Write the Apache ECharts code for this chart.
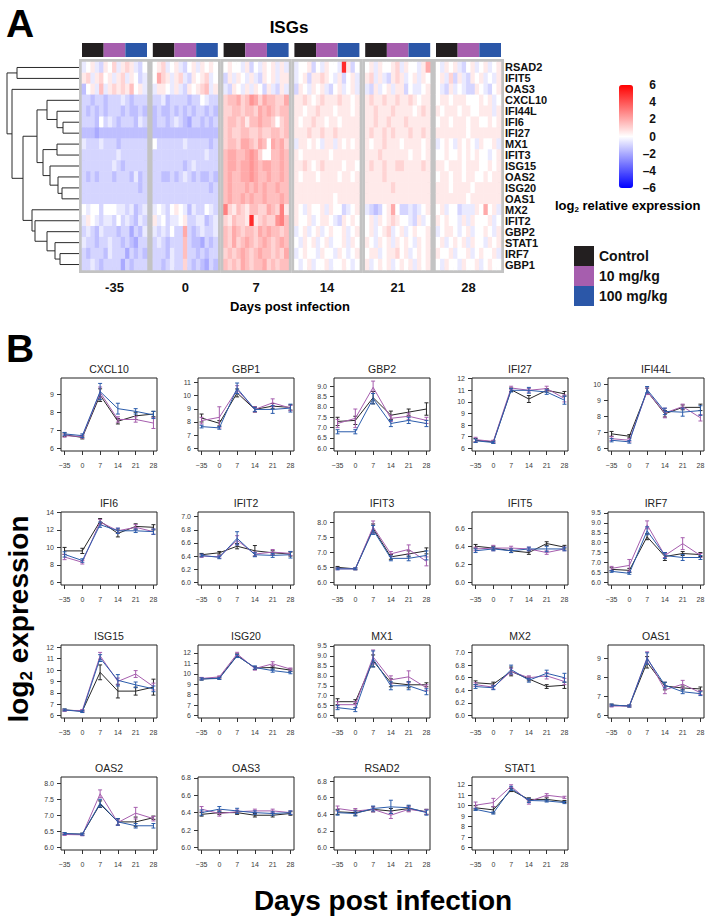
<!DOCTYPE html>
<html>
<head>
<meta charset="utf-8">
<title>ISGs</title>
<script src="https://cdn.jsdelivr.net/npm/echarts@6/dist/echarts.min.js"></script>
<style>
html, body { margin: 0; padding: 0; background: #fff; }
#chart { width: 705px; height: 920px; }
</style>
</head>
<body>
<div id="chart"></div>
<script>
// ---------- panel A data ----------
var heatGenes = ['RSAD2', 'IFIT5', 'OAS3', 'CXCL10', 'IFI44L', 'IFI6', 'IFI27', 'MX1', 'IFIT3', 'ISG15',
  'OAS2', 'ISG20', 'OAS1', 'MX2', 'IFIT2', 'GBP2', 'STAT1', 'IRF7', 'GBP1'];
var heatDays = ['-35', '0', '7', '14', '21', '28'];
var groupNames = ['Control', '10 mg/kg', '100 mg/kg'];
// one string per day block, 15 animals (5 per group); letter code: 'i' = 0, one letter = 0.5 log2
var heatRows = [
  ['hijhgjikhjkjhgi', 'ijkhijhgijhjiji', 'ijiihjgihjijhjh', 'hiijgihjiihsjgi', 'ijhjiijkhjiihjm', 'ihjijhgijhijhij'],
  ['jkhjkijhjkhjigh', 'imkjhjkhgjijkhi', 'gjhjihjhgjijhjj', 'hijgjjkjihjgijh', 'jkhjhgjkjhijhji', 'ijhkgjhgjijhihj'],
  ['fijhlhjkjkjlijh', 'hjjihjhgjijklhj', 'hgjihjhjigjhgjh', 'gjihjijhgijhijh', 'hgjhijhjjgihhij', 'ihgjhihggjihgij'],
  ['ggfggfggghgfggg', 'gghfggggfggihgg', 'kllmklnmkmllkkm', 'jjkjijkjjjkjjij', 'jkjjkjjkjjkjijj', 'ijjijjjiiijijhi'],
  ['gfgfgfgggfgffgf', 'fgffgfgfgfggfgf', 'kkllkllkmlmlkll', 'jjijjkjjjijjjij', 'jjkjjjkjjjjijkj', 'jijjjijjiijjjhj'],
  ['gggfighgfgggfhg', 'fggfghgfeggfgfg', 'kllkljllmllkikl', 'jijjkjjijjijjjj', 'jjkjjkjjjkjjjjj', 'ijjijjjijjiijij'],
  ['fffefffffffffff', 'fffffffffffffff', 'klkkllkklkkllkl', 'jjjkjjkjjkjjjjj', 'jkjjkjkjjjkjjkj', 'jjjjjjjijjjjjjj'],
  ['hggghgggfgggggg', 'igggggghgggggfg', 'kllkmmlkmlimlmk', 'hjjijihjjhjijij', 'jijjkjjjijjjjij', 'hijihjijihjiijh'],
  ['gggggggghgggggg', 'gggggggggggghgg', 'lmmllmnmkiillml', 'jijjjjjjijjjjjj', 'jjjkjjjjjjijjij', 'iijiijijijiihij'],
  ['ggggggghgfggggg', 'gggggggfghggggg', 'lmmlmmnmlmmllml', 'jjkjijkjjjjijji', 'jkjjkjjkkjjjjkj', 'jjijjjijjjiijij'],
  ['gfgfgggfgggfhfg', 'ggffgfghgfgffgf', 'lmllmmnmllmllml', 'jijjjijjjjijjij', 'jjjjkjjjjjjjjjj', 'ijjijjijjiijijj'],
  ['gggggggggggggfg', 'gggggggggggggfg', 'lmlllmlmlmllmll', 'jjjjjjjjjjjjjjj', 'jjjjjjkjjjjjjjj', 'jjjijjjjijjjjjj'],
  ['ggggggggggggggg', 'ggggggggggggggg', 'lmllmlmllmlllml', 'jjjjjjjjjijjjjj', 'jjjjjjjjjjjjjjj', 'jjjjjjjijjjjjjj'],
  ['ihiigiiihhghfgh', 'hihgijihfhggihg', 'okjlkjllkkmlkoj', 'jihjiijhjiighij', 'hgfgijmigghghij', 'ijhiighhhjimijh'],
  ['hjihghhgighgfhg', 'jhighhijgghhfgh', 'kjlkkjsjklkknol', 'jiijhijjihgjiji', 'ijhjijkjiihgjhi', 'jijiihjhjiiijhi'],
  ['ghgfhgggfggegfh', 'hghgiggmgfghggh', 'lkmlkllkmlmllkl', 'hijhijhijiijhij', 'ijhijkhijhijiij', 'hijjihijhiijihj'],
  ['hggfgghggfgfegg', 'ghgfggglgffegfg', 'lkmklmlklmlklml', 'ihjijhijhiijhji', 'jihjijhjijihjij', 'ijhijijhjiihjij'],
  ['gfgggfhgggegfgf', 'gggfhgglggfgfgg', 'klklmlklmllklkm', 'hijiihjiihjihij', 'ijjhijjkijhijij', 'jiijhiijhijiijh'],
  ['gghgfggggegfggg', 'ggfghggkgfgfegf', 'lklkmlkllmklkll', 'ihijhiijhiijihi', 'jhijijhijijhjij', 'ihjiihjiijhijii']
];
// dendrogram merges, hclust style: negative = leaf (row), positive = earlier merge; third value = height
var merges = [
  [-6, -7, 16], [-5, 1, 22], [-4, 2, 32], [-8, -9, 22], [-12, -13, 17], [-11, 5, 21],
  [-10, 6, 29], [4, 7, 36], [3, 8, 42], [-18, -19, 19], [-17, 10, 24], [-16, 11, 32],
  [-15, 12, 44], [-14, 13, 47], [9, 14, 56], [-3, 15, 67], [-1, -2, 62], [17, 16, 72]
];

// ---------- panel B data ----------
var dayLabels = ['\u221235', '0', '7', '14', '21', '28'];
var plotGenes = ['CXCL10', 'GBP1', 'GBP2', 'IFI27', 'IFI44L', 'IFI6', 'IFIT2', 'IFIT3', 'IFIT5', 'IRF7',
  'ISG15', 'ISG20', 'MX1', 'MX2', 'OAS1', 'OAS2', 'OAS3', 'RSAD2', 'STAT1'];
var ctrlMean = [
  [6.75, 6.6, 8.95, 7.5, 7.8, 7.9], [8.3, 7.9, 10.2, 8.95, 9.2, 9.1], [7.3, 7.35, 8.45, 7.6, 7.75, 7.9],
  [6.7, 6.55, 11.05, 10.25, 11.0, 10.7], [6.9, 6.75, 9.55, 8.15, 8.55, 8.55], [9.6, 9.6, 13.0, 11.6, 12.4, 12.3],
  [6.42, 6.45, 6.55, 6.48, 6.45, 6.43], [6.5, 6.45, 7.8, 6.85, 6.95, 7.05], [6.40, 6.38, 6.35, 6.33, 6.43, 6.39],
  [6.65, 6.6, 8.3, 7.3, 7.45, 7.4], [6.5, 6.4, 9.8, 8.15, 8.15, 8.5], [9.5, 9.6, 11.75, 10.55, 10.6, 10.35],
  [6.7, 6.7, 8.75, 7.65, 7.55, 7.55], [6.52, 6.50, 6.70, 6.58, 6.46, 6.48], [6.55, 6.5, 8.8, 7.55, 7.45, 7.4],
  [6.43, 6.42, 7.35, 6.8, 6.8, 6.93], [6.38, 6.40, 6.40, 6.37, 6.37, 6.39], [6.43, 6.42, 6.46, 6.44, 6.47, 6.43],
  [9.8, 9.6, 11.5, 10.6, 10.6, 10.4]
];
var lowMean = [
  [6.7, 6.65, 9.1, 7.6, 7.6, 7.4], [8.1, 8.35, 10.45, 8.95, 9.45, 9.05], [7.2, 7.45, 8.95, 7.45, 7.55, 7.35],
  [6.75, 6.6, 11.2, 11.0, 11.15, 10.3], [6.6, 6.5, 9.55, 8.2, 8.6, 7.9], [8.9, 8.3, 12.9, 11.9, 12.3, 11.8],
  [6.40, 6.39, 6.64, 6.43, 6.46, 6.44], [6.45, 6.45, 7.85, 6.95, 7.1, 6.7], [6.37, 6.38, 6.38, 6.37, 6.33, 6.37],
  [6.7, 6.85, 8.9, 7.35, 7.95, 7.35], [6.45, 6.45, 11.25, 9.0, 9.65, 8.55], [9.55, 9.7, 11.9, 10.5, 10.95, 10.45],
  [6.55, 6.55, 8.95, 7.8, 7.95, 7.4], [6.49, 6.45, 6.70, 6.60, 6.63, 6.54], [6.5, 6.5, 9.05, 7.35, 7.65, 7.2],
  [6.41, 6.40, 7.67, 6.78, 7.07, 6.9], [6.44, 6.39, 6.41, 6.42, 6.42, 6.40], [6.47, 6.44, 6.46, 6.39, 6.46, 6.43],
  [10.05, 10.3, 11.85, 10.4, 11.0, 10.8]
];
var highMean = [
  [6.8, 6.7, 9.15, 8.2, 8.05, 7.85], [7.65, 7.55, 10.55, 8.95, 8.95, 9.05], [6.8, 6.8, 8.4, 7.2, 7.35, 7.2],
  [6.65, 6.5, 11.0, 11.0, 10.85, 10.15], [6.5, 6.4, 9.65, 8.3, 8.25, 8.35], [9.2, 8.5, 12.6, 11.9, 11.9, 11.8],
  [6.41, 6.38, 6.67, 6.42, 6.41, 6.42], [6.45, 6.45, 7.75, 6.8, 6.8, 6.9], [6.35, 6.37, 6.35, 6.37, 6.37, 6.37],
  [6.55, 6.45, 8.6, 7.35, 7.25, 7.25], [6.5, 6.35, 11.05, 9.1, 8.7, 8.35], [9.5, 9.55, 11.7, 10.6, 10.3, 10.1],
  [6.4, 6.3, 8.85, 7.5, 7.5, 7.2], [6.46, 6.44, 6.73, 6.56, 6.67, 6.60], [6.55, 6.5, 9.0, 7.6, 7.25, 7.15],
  [6.44, 6.42, 7.38, 6.8, 6.68, 6.68], [6.40, 6.44, 6.42, 6.40, 6.39, 6.40], [6.42, 6.41, 6.47, 6.49, 6.48, 6.42],
  [9.65, 9.3, 11.65, 10.5, 10.45, 10.3]
];
var ctrlSe = [
  [0.1, 0.08, 0.35, 0.15, 0.2, 0.15], [0.3, 0.2, 0.3, 0.2, 0.2, 0.2], [0.2, 0.2, 0.3, 0.2, 0.15, 0.3],
  [0.15, 0.1, 0.15, 0.3, 0.15, 0.2], [0.15, 0.1, 0.2, 0.2, 0.15, 0.2], [0.4, 0.3, 0.3, 0.4, 0.3, 0.3],
  [0.02, 0.02, 0.04, 0.08, 0.03, 0.03], [0.03, 0.03, 0.15, 0.08, 0.1, 0.1], [0.02, 0.02, 0.02, 0.02, 0.02, 0.02],
  [0.08, 0.1, 0.15, 0.2, 0.1, 0.1], [0.08, 0.08, 0.65, 0.6, 0.35, 0.7], [0.1, 0.1, 0.15, 0.15, 0.15, 0.1],
  [0.15, 0.1, 0.3, 0.2, 0.15, 0.1], [0.03, 0.03, 0.07, 0.03, 0.03, 0.05], [0.05, 0.05, 0.3, 0.2, 0.1, 0.1],
  [0.03, 0.03, 0.1, 0.1, 0.15, 0.05], [0.02, 0.02, 0.02, 0.02, 0.02, 0.02], [0.03, 0.03, 0.03, 0.03, 0.03, 0.03],
  [0.2, 0.3, 0.15, 0.15, 0.15, 0.1]
];
var lowSe = [
  [0.08, 0.08, 0.3, 0.15, 0.15, 0.3], [0.25, 0.8, 0.3, 0.2, 0.3, 0.2], [0.2, 0.45, 0.3, 0.15, 0.15, 0.15],
  [0.2, 0.1, 0.15, 0.15, 0.2, 0.3], [0.12, 0.1, 0.2, 0.3, 0.15, 0.2], [0.3, 0.2, 0.3, 0.3, 0.3, 0.3],
  [0.02, 0.02, 0.07, 0.03, 0.04, 0.03], [0.03, 0.03, 0.2, 0.08, 0.15, 0.15], [0.02, 0.03, 0.02, 0.02, 0.02, 0.02],
  [0.1, 0.3, 0.2, 0.1, 0.3, 0.1], [0.08, 0.08, 0.3, 0.3, 0.3, 0.3], [0.1, 0.1, 0.15, 0.15, 0.2, 0.1],
  [0.15, 0.15, 0.35, 0.2, 0.3, 0.15], [0.03, 0.03, 0.05, 0.03, 0.05, 0.05], [0.05, 0.05, 0.3, 0.2, 0.2, 0.1],
  [0.03, 0.03, 0.12, 0.08, 0.18, 0.07], [0.03, 0.03, 0.02, 0.02, 0.02, 0.02], [0.03, 0.03, 0.03, 0.04, 0.03, 0.03],
  [0.3, 0.4, 0.15, 0.25, 0.15, 0.1]
];
var highSe = [
  [0.08, 0.1, 0.45, 0.3, 0.15, 0.2], [0.1, 0.1, 0.4, 0.15, 0.3, 0.3], [0.1, 0.1, 0.25, 0.15, 0.15, 0.15],
  [0.15, 0.08, 0.15, 0.25, 0.2, 0.35], [0.1, 0.08, 0.2, 0.2, 0.25, 0.3], [0.3, 0.2, 0.3, 0.3, 0.2, 0.3],
  [0.02, 0.02, 0.1, 0.03, 0.03, 0.05], [0.03, 0.03, 0.15, 0.08, 0.08, 0.15], [0.02, 0.02, 0.02, 0.02, 0.03, 0.02],
  [0.05, 0.05, 0.2, 0.15, 0.15, 0.1], [0.08, 0.08, 0.3, 0.5, 0.25, 0.25], [0.1, 0.1, 0.15, 0.15, 0.15, 0.1],
  [0.1, 0.1, 0.4, 0.2, 0.2, 0.15], [0.03, 0.03, 0.07, 0.03, 0.05, 0.07], [0.05, 0.05, 0.3, 0.15, 0.1, 0.1],
  [0.03, 0.03, 0.12, 0.1, 0.07, 0.07], [0.03, 0.03, 0.03, 0.02, 0.02, 0.02], [0.03, 0.03, 0.03, 0.08, 0.03, 0.03],
  [0.1, 0.1, 0.2, 0.2, 0.1, 0.1]
];
// y axis ticks run from 6 to tickTop in tickStep; axis range per panel
var tickTop = [9, 11, 9, 12, 10, 14, 7, 8, 6.6, 9.5, 12, 12, 9.5, 7, 9, 8, 6.8, 6.8, 12];
var tickStep = [1, 1, 0.5, 1, 1, 2, 0.2, 0.5, 0.2, 0.5, 1, 1, 0.5, 0.2, 1, 0.5, 0.2, 0.2, 1];
var axisLow = [5.85, 5.8, 5.87, 5.77, 5.83, 5.7, 5.96, 5.91, 5.97, 5.86, 5.79, 5.77, 5.88, 5.96, 5.87, 5.93, 5.97, 5.97, 5.77];
var axisHigh = [9.9, 11.33, 9.4, 12.06, 10.38, 14.05, 7.07, 8.35, 6.78, 9.55, 12.2, 12.75, 9.55, 7.12, 9.71, 8.19, 6.81, 6.85, 12.74];

// ---------- styling ----------
var FONT = '"Liberation Sans", Arial, Helvetica, sans-serif';
var groupColors = ['#231f20', '#a65eae', '#2b57a8'];
var lineColors = ['#262626', '#a65eae', '#2b5cab'];
var levelZero = 'i'.charCodeAt(0);

var grids = [], xAxes = [], yAxes = [], series = [], graphics = [];
var blockLeft = 82, blockStep = 70.8, blockW = 65, heatTop = 62, heatH = 208;
var colIds = [];
for (var c = 0; c < 15; c++) colIds.push(String(c));

// heatmap blocks
heatDays.forEach(function (day, b) {
  grids.push({
    left: blockLeft + b * blockStep, top: heatTop, width: blockW, height: heatH,
    show: true, borderColor: '#c3c3c3', borderWidth: 6, backgroundColor: 'transparent', outerBoundsMode: 'none'
  });
  xAxes.push({
    type: 'category', gridIndex: b, data: colIds,
    axisLine: { show: false }, axisTick: { show: false }, axisLabel: { show: false }, splitLine: { show: false },
    name: day, nameLocation: 'middle', nameGap: 11,
    nameTextStyle: { fontSize: 13, fontWeight: 'bold', color: '#111', fontFamily: FONT }
  });
  yAxes.push({
    type: 'category', gridIndex: b, data: heatGenes, inverse: true, position: 'right',
    axisLine: { show: false }, axisTick: { show: false }, splitLine: { show: false },
    axisLabel: b === 5 ? {
      show: true, fontSize: 11, lineHeight: 10, fontWeight: 'bold', color: '#111', margin: 4,
      fontFamily: FONT, interval: 0
    } : { show: false }
  });
  var data = [];
  heatRows.forEach(function (row, r) {
    var s = row[b];
    for (var k = 0; k < s.length; k++) data.push([k, r, (s.charCodeAt(k) - levelZero) * 0.5]);
  });
  series.push({
    type: 'heatmap', xAxisIndex: b, yAxisIndex: b, data: data, silent: true, progressive: 0,
    itemStyle: { borderWidth: 0 }, emphasis: { disabled: true }
  });
});

// group colour strips above the heatmap
heatDays.forEach(function (day, b) {
  var gi = 6 + b;
  grids.push({ left: blockLeft + b * blockStep, top: 43, width: blockW, height: 14, outerBoundsMode: 'none' });
  xAxes.push({ type: 'category', gridIndex: gi, data: groupNames, show: false });
  yAxes.push({ type: 'value', gridIndex: gi, min: 0, max: 1, show: false });
  series.push({
    type: 'bar', xAxisIndex: gi, yAxisIndex: gi, barCategoryGap: '0%', silent: true,
    data: groupNames.map(function (n, j) { return { value: 1, itemStyle: { color: groupColors[j] } }; })
  });
});

// dendrogram
var nodes = [];
function nodeAt(ref) { return ref < 0 ? { y: -ref - 1, h: 0 } : nodes[ref - 1]; }
var dendroData = merges.map(function (m) {
  var a = nodeAt(m[0]), bb = nodeAt(m[1]);
  nodes.push({ y: (a.y + bb.y) / 2, h: m[2] });
  return [m[2], a.y, bb.y, a.h, bb.h];
});
grids.push({ left: 5, top: heatTop, width: 74, height: heatH, outerBoundsMode: 'none' });
xAxes.push({ type: 'value', gridIndex: 12, min: 0, max: 74, inverse: true, show: false });
yAxes.push({ type: 'value', gridIndex: 12, min: -0.5, max: heatGenes.length - 0.5, inverse: true, show: false });
series.push({
  type: 'custom', xAxisIndex: 12, yAxisIndex: 12, data: dendroData, silent: true,
  renderItem: function (params, api) {
    var pts = [
      api.coord([api.value(3), api.value(1)]), api.coord([api.value(0), api.value(1)]),
      api.coord([api.value(0), api.value(2)]), api.coord([api.value(4), api.value(2)])
    ];
    return { type: 'polyline', shape: { points: pts }, style: { stroke: '#2a2a2a', lineWidth: 1, fill: null } };
  }
});

// colour scale labels
grids.push({ left: 619, top: 85, width: 14, height: 103, outerBoundsMode: 'none' });
xAxes.push({ type: 'value', gridIndex: 13, min: 0, max: 1, show: false });
yAxes.push({
  type: 'value', gridIndex: 13, min: -6, max: 6, interval: 2, position: 'right',
  axisLine: { show: false }, axisTick: { show: false }, splitLine: { show: false },
  axisLabel: {
    fontSize: 12, fontWeight: 'bold', color: '#111', align: 'right', margin: 23, fontFamily: FONT,
    formatter: function (v) { return v < 0 ? '\u2013' + (-v) : String(v); }
  }
});

// small multiples
var plotLeft = [61, 198, 334, 472, 608], plotTop = [378, 512, 645, 777];
var meanSets = [ctrlMean, lowMean, highMean], seSets = [ctrlSe, lowSe, highSe];
var xPos = [1, 2, 3, 4, 5, 6];

function renderErr(params, api) {
  var p1 = api.coord([api.value(0), api.value(1)]);
  var p2 = api.coord([api.value(0), api.value(2)]);
  var w = 2;
  var st = { stroke: api.visual('color'), lineWidth: 1 };
  return {
    type: 'group', children: [
      { type: 'line', shape: { x1: p1[0], y1: p1[1], x2: p2[0], y2: p2[1] }, style: st },
      { type: 'line', shape: { x1: p1[0] - w, y1: p1[1], x2: p1[0] + w, y2: p1[1] }, style: st },
      { type: 'line', shape: { x1: p2[0] - w, y1: p2[1], x2: p2[0] + w, y2: p2[1] }, style: st }
    ]
  };
}

plotGenes.forEach(function (gene, g) {
  var gi = 14 + g, col = g % 5, row = Math.floor(g / 5);
  var left = plotLeft[col], top = plotTop[row];
  grids.push({
    left: left, top: top, width: 96, height: 73, show: true,
    borderColor: '#222', borderWidth: 1, backgroundColor: 'transparent', outerBoundsMode: 'none'
  });
  xAxes.push({
    type: 'value', gridIndex: gi, min: 0.8, max: 6.2,
    axisLine: { show: false }, splitLine: { show: false },
    axisTick: { show: true, inside: false, length: 4, customValues: xPos, lineStyle: { color: '#333', width: 1 } },
    axisLabel: {
      customValues: xPos, fontSize: 7, color: '#3a3a3a', margin: 11, fontFamily: FONT,
      formatter: function (v) { return dayLabels[Math.round(v) - 1]; }
    }
  });
  var ticks = [];
  for (var t = 6; t <= tickTop[g] + 1e-6; t += tickStep[g]) ticks.push(Math.round(t * 100) / 100);
  var step = tickStep[g];
  yAxes.push({
    type: 'value', gridIndex: gi, min: axisLow[g], max: axisHigh[g],
    axisLine: { show: false }, splitLine: { show: false },
    axisTick: { show: true, inside: false, length: 4, customValues: ticks, lineStyle: { color: '#333', width: 1 } },
    axisLabel: {
      customValues: ticks, fontSize: 7, color: '#3a3a3a', margin: 7, fontFamily: FONT,
      formatter: function (v) { return step < 1 ? v.toFixed(1) : String(Math.round(v)); }
    }
  });
  graphics.push({
    type: 'text', x: left + 48, y: top - 9, silent: true,
    style: { text: gene, fontSize: 10.5, fontFamily: FONT, fill: '#222', align: 'center', verticalAlign: 'middle' }
  });
  meanSets.forEach(function (means, j) {
    series.push({
      type: 'line', name: groupNames[j], xAxisIndex: gi, yAxisIndex: gi, silent: true,
      data: means[g].map(function (v, k) { return [xPos[k], v]; }),
      symbol: 'none', z: 3 + j,
      lineStyle: { color: lineColors[j], width: 1 }, itemStyle: { color: groupColors[j] }
    });
  });
  meanSets.forEach(function (means, j) {
    series.push({
      type: 'custom', name: groupNames[j], xAxisIndex: gi, yAxisIndex: gi, silent: true, z: 3 + j,
      itemStyle: { color: lineColors[j] }, renderItem: renderErr,
      data: means[g].map(function (v, k) { var e = seSets[j][g][k]; return [xPos[k], v - e, v + e]; })
    });
  });
});

// free texts
function txt(x, y, text, size) {
  return {
    type: 'text', x: x, y: y, silent: true,
    style: { text: text, fontSize: size, fontWeight: 'bold', fontFamily: FONT, fill: '#000', align: 'center', verticalAlign: 'middle' }
  };
}
graphics.push(txt(20, 23, 'A', 39));
graphics.push(txt(289, 27, 'ISGs', 17));
graphics.push(txt(290, 306, 'Days post infection', 13));
graphics.push(txt(20, 348, 'B', 39));
graphics.push(txt(383, 900, 'Days post infection', 28));
graphics.push({
  type: 'text', x: 555, y: 205, silent: true,
  style: {
    text: '{a|log}{s|2}{a| relative expression}', fontFamily: FONT, fill: '#000', align: 'left', verticalAlign: 'middle',
    rich: {
      a: { fontSize: 13, fontWeight: 'bold', fontFamily: FONT, lineHeight: 16, verticalAlign: 'middle' },
      s: { fontSize: 8, fontWeight: 'bold', fontFamily: FONT, lineHeight: 16, verticalAlign: 'bottom' }
    }
  }
});
graphics.push({
  type: 'text', x: 18, y: 619, rotation: Math.PI / 2, silent: true,
  style: {
    text: '{a|log}{s|2}{a| expression}', fontFamily: FONT, fill: '#000', align: 'center', verticalAlign: 'middle',
    rich: {
      a: { fontSize: 28, fontWeight: 'bold', fontFamily: FONT, lineHeight: 34, verticalAlign: 'middle' },
      s: { fontSize: 17, fontWeight: 'bold', fontFamily: FONT, lineHeight: 34, verticalAlign: 'bottom' }
    }
  }
});

var chart = echarts.init(document.getElementById('chart'), null, { renderer: 'svg' });
chart.setOption({
  animation: false,
  backgroundColor: '#fff',
  textStyle: { fontFamily: FONT },
  grid: grids,
  xAxis: xAxes,
  yAxis: yAxes,
  visualMap: {
    type: 'continuous', min: -6, max: 6, seriesIndex: [0, 1, 2, 3, 4, 5],
    left: 619, top: 85, itemWidth: 14, itemHeight: 103, padding: 0,
    calculable: false, hoverLink: false, text: null,
    inRange: { color: ['#0000ff', '#ffffff', '#ff0000'] }
  },
  legend: {
    data: groupNames, orient: 'vertical', left: 574, top: 246, padding: 0,
    itemWidth: 20, itemHeight: 20, itemGap: 0, icon: 'rect', selectedMode: false,
    textStyle: { fontSize: 14, fontWeight: 'bold', color: '#111', fontFamily: FONT }
  },
  graphic: graphics,
  series: series
});
</script>
</body>
</html>
